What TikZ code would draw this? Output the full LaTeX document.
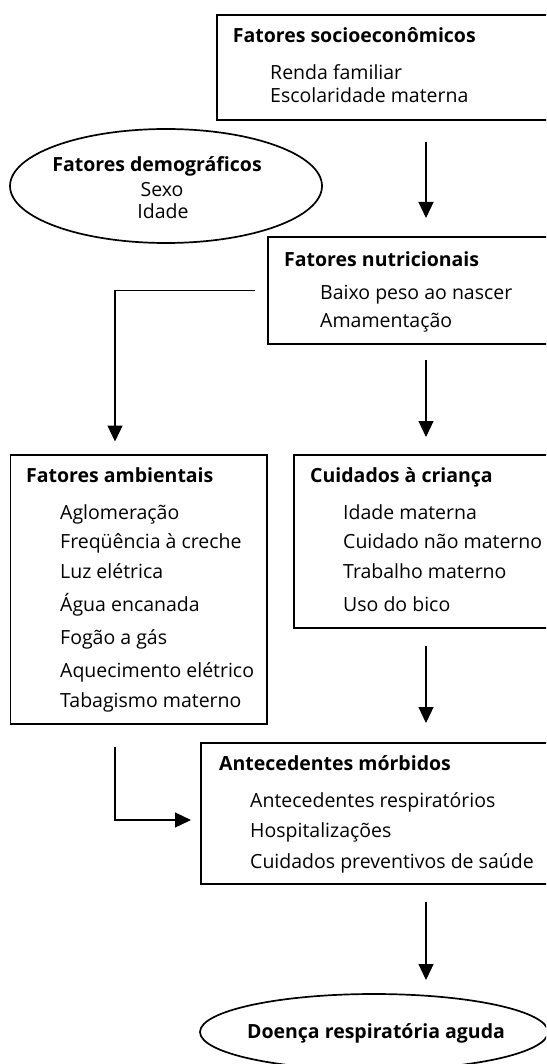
\documentclass[tikz,border=0pt]{standalone}
\usepackage{fontspec}
\setmainfont{Open Sans}
\usetikzlibrary{arrows.meta,shapes.geometric,calc}
\begin{document}
\begin{tikzpicture}[x=1pt,y=-1pt,
  box/.style={draw, line width=1.9pt, rectangle, anchor=north west, inner sep=0pt, outer sep=0pt},
  oval/.style={draw, line width=1.7pt, ellipse, inner sep=0pt, outer sep=0pt},
  arr/.style={line width=1.2pt, -{Triangle[length=16pt,width=15pt]}},
  ttl/.style={anchor=base west, inner sep=0pt, font=\fontsize{19.5}{23}\selectfont\bfseries},
  itm/.style={anchor=base west, inner sep=0pt, font=\fontsize{19.5}{23}\selectfont},
  ctr/.style={anchor=base, inner sep=0pt, font=\fontsize{19.5}{23}\selectfont},
]
\useasboundingbox (0,0) rectangle (546,1064);
\clip (0,0) rectangle (546,1064);
\coordinate (ax) at (426,0);
\coordinate (lx) at (115,0);

% boxes
\node[box, minimum width=343pt, minimum height=105pt] (b1) at (217,15) {};
\node[oval, minimum width=312pt, minimum height=114pt] (e1) at (166,186) {};
\node[box, minimum width=292pt, minimum height=107pt] (b2) at (268,237) {};
\node[box, minimum width=256.5pt, minimum height=269pt] (b3) at (10.5,455) {};
\node[box, minimum width=266pt, minimum height=173pt] (b4) at (294,455) {};
\node[box, minimum width=359pt, minimum height=141pt] (b5) at (201,743) {};
\node[oval, minimum width=348pt, minimum height=76pt] (e2) at (374,1032) {};

% texts
\node[ttl] (t1) at (232.6,43) {Fatores socioeconômicos};
\node[itm] (t1a) at (270,80) {Renda familiar};
\node[itm] (t1b) at (270,103) {Escolaridade materna};

\node[ctr, font=\fontsize{19.5}{23}\selectfont\bfseries] (te) at (157,172) {Fatores demográficos};
\node[ctr] (tea) at (162,197) {Sexo};
\node[ctr] (teb) at (163,219) {Idade};

\node[ttl] (t2) at (284,266) {Fatores nutricionais};
\node[itm] (t2a) at (320,299) {Baixo peso ao nascer};
\node[itm] (t2b) at (320,327) {Amamentação};

\node[ttl] (t3) at (26,482) {Fatores ambientais};
\node[itm] (t3a) at (60,519) {Aglomeração};
\node[itm] (t3b) at (60,548) {Freqüência à creche};
\node[itm] (t3c) at (60,578) {Luz elétrica};
\node[itm] (t3d) at (60,611) {Água encanada};
\node[itm] (t3e) at (60,644) {Fogão a gás};
\node[itm] (t3f) at (60,677) {Aquecimento elétrico};
\node[itm] (t3g) at (60,707) {Tabagismo materno};

\node[ttl] (t4) at (310,482) {Cuidados à criança};
\node[itm] (t4a) at (343,519) {Idade materna};
\node[itm] (t4b) at (343,548) {Cuidado não materno};
\node[itm] (t4c) at (343,578) {Trabalho materno};
\node[itm] (t4d) at (343,611) {Uso do bico};

\node[ttl] (t5) at (219,770) {Antecedentes mórbidos};
\node[itm] (t5a) at (250,807) {Antecedentes respiratórios};
\node[itm] (t5b) at (250,837) {Hospitalizações};
\node[itm] (t5c) at (250,868) {Cuidados preventivos de saúde};

\node[ctr, font=\fontsize{19.5}{23}\selectfont\bfseries] (t6) at (376,1038) {Doença respiratória aguda};

% connectors
\draw[arr, shorten <=21.7pt, shorten >=19pt] (b1.south -| ax) -- (b2.north -| ax);
\draw[arr, shorten <=13pt, shorten >=13.5pt] (b2.west) -| (lx |- b3.north);
\draw[arr, shorten <=16pt, shorten >=18pt] (b2.south -| ax) -- (b4.north -| ax);
\draw[arr, shorten <=18pt, shorten >=20pt] (b4.south -| ax) -- (b5.north -| ax);
\draw[arr, shorten <=22.7pt, shorten >=10pt] (lx |- b3.south) |- ([yshift=-6.5pt]b5.west);
\draw[arr, shorten <=17.7pt, shorten >=14pt] (b5.south -| ax) -- (e2.north -| ax);
\end{tikzpicture}
\end{document}
